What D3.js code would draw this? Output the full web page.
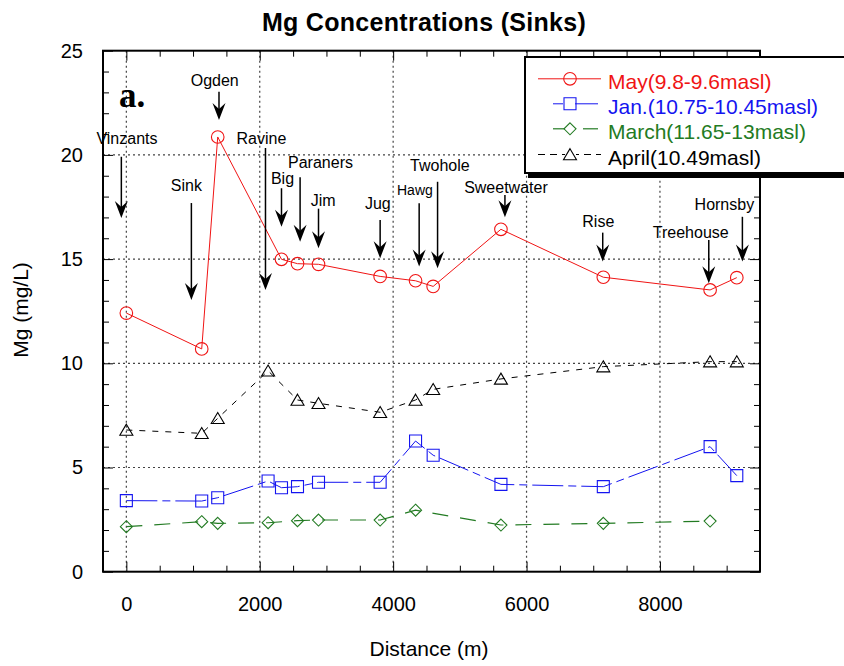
<!DOCTYPE html>
<html>
<head>
<meta charset="utf-8">
<script src="https://cdn.jsdelivr.net/npm/d3@7"></script>
<style>
  html, body { margin: 0; padding: 0; background: #fff; }
  svg { display: block; }
</style>
</head>
<body>
<svg id="chart" width="844" height="666"></svg>
<script>
// ---------------- data ----------------
const seriesNames = ["May(9.8-9.6masl)", "Jan.(10.75-10.45masl)", "March(11.65-13masl)", "April(10.49masl)"];

const distMay   = [0, 1130, 1370, 2326, 2566, 2881, 3805, 4336, 4600, 5616, 7151, 8752, 9152];
const mgMay     = [12.41, 10.69, 20.86, 14.99, 14.78, 14.75, 14.17, 13.96, 13.69, 16.43, 14.13, 13.52, 14.11];

const distJan   = [0, 1130, 1370, 2125, 2326, 2566, 2881, 3805, 4336, 4600, 5616, 7151, 8752, 9152];
const mgJan     = [3.41, 3.39, 3.55, 4.35, 4.03, 4.08, 4.29, 4.29, 6.27, 5.59, 4.19, 4.08, 6.00, 4.61];

const distMarch = [0, 1130, 1370, 2125, 2566, 2881, 3805, 4336, 5616, 7151, 8752];
const mgMarch   = [2.16, 2.40, 2.32, 2.35, 2.45, 2.48, 2.48, 2.95, 2.24, 2.32, 2.43];

const distApril = [0, 1130, 1370, 2125, 2566, 2881, 3805, 4336, 4600, 5616, 7151, 8752, 9152];
const mgApril   = [6.80, 6.64, 7.36, 9.64, 8.24, 8.08, 7.65, 8.24, 8.75, 9.25, 9.84, 10.08, 10.08];

const xTicks = [0, 2000, 4000, 6000, 8000];
const yTicks = [0, 5, 10, 15, 20, 25];

// site annotations (in data units: distance, Mg)
const siteNames    = ["Vinzants", "Sink", "Ogden", "Ravine", "Big", "Paraners", "Jim", "Jug", "Hawg", "Twohole", "Sweetwater", "Rise", "Treehouse", "Hornsby"];
const siteArrowX   = [-75, 975, 1389, 2086, 2326, 2605, 2881, 3805, 4390, 4666, 5676, 7142, 8732, 9236];
const siteLabelX   = [9, 900, 1325, 2026, 2341, 2911, 2950, 3770, 4326, 4701, 5691, 7076, 8462, 8966];
const siteLabelY   = [20.52, 18.28, 23.31, 20.52, 18.60, 19.36, 17.56, 17.40, 18.08, 19.24, 18.16, 16.53, 16.00, 17.36];
const siteArrowTop = [19.91, 17.69, 23.03, 20.33, 18.40, 18.93, 17.42, 16.88, 17.68, 18.71, 18.08, 16.27, 15.92, 17.03];
const siteArrowTip = [16.97, 13.04, 21.67, 13.52, 16.55, 15.83, 15.52, 15.04, 14.65, 14.56, 17.01, 14.88, 13.84, 14.88];

// ---------------- layout ----------------
const SANS = "Liberation Sans, Arial, Helvetica, sans-serif";
const SERIF = "Liberation Serif, Times New Roman, serif";
const svg = d3.select("#chart");
const L = 103, R = 760, T = 50.7, B = 571.7;
const x = d3.scaleLinear().domain([-350, 9500]).range([L, R]);
const y = d3.scaleLinear().domain([0, 25]).range([B, T]);

const series = [
  { name: seriesNames[0], xs: distMay,   ys: mgMay,   color: "#f01414", dash: null,        marker: "circle",   width: 1 },
  { name: seriesNames[1], xs: distJan,   ys: mgJan,   color: "#1414f0", dash: "31,5,8,5",  marker: "square",   width: 1 },
  { name: seriesNames[2], xs: distMarch, ys: mgMarch, color: "#237b23", dash: "16,12",     marker: "diamond",  width: 1.2 },
  { name: seriesNames[3], xs: distApril, ys: mgApril, color: "#000000", dash: "6,7",       marker: "triangle", width: 1 }
];

// ---------------- grid ----------------
const grid = svg.append("g").attr("class", "grid");
grid.selectAll("line.vg").data(xTicks).join("line").attr("class", "vg")
  .attr("x1", d => x(d)).attr("x2", d => x(d)).attr("y1", T).attr("y2", B)
  .attr("stroke", "#444").attr("stroke-width", 1.2).attr("stroke-dasharray", "2,3");
grid.selectAll("line.hg").data(yTicks.filter(d => d > 0 && d < 25)).join("line").attr("class", "hg")
  .attr("x1", L).attr("x2", R).attr("y1", d => y(d)).attr("y2", d => y(d))
  .attr("stroke", "#444").attr("stroke-width", 1.2).attr("stroke-dasharray", "2,3");

// ---------------- axes ----------------
const xMinor = d3.range(0, 9501, 500).filter(d => d % 2000 !== 0);
const yMinor = d3.range(0, 26, 1).filter(d => d % 5 !== 0);

function styleAxis(g) {
  g.select(".domain").remove();
  g.selectAll("line").attr("stroke", "#000").attr("stroke-width", 1);
  g.selectAll("text").attr("font-size", 20).attr("fill", "#000").style("font-family", SANS);
}

svg.append("g").attr("transform", `translate(0,${B})`)
  .call(d3.axisBottom(x).tickValues(xTicks).tickSize(-10).tickPadding(25).tickFormat(d3.format("d"))).call(styleAxis);
svg.append("g").attr("transform", `translate(0,${B})`)
  .call(d3.axisBottom(x).tickValues(xMinor).tickSize(-6).tickFormat("")).call(styleAxis);
svg.append("g").attr("transform", `translate(0,${T})`)
  .call(d3.axisTop(x).tickValues(xTicks).tickSize(-10).tickFormat("")).call(styleAxis);
svg.append("g").attr("transform", `translate(0,${T})`)
  .call(d3.axisTop(x).tickValues(xMinor).tickSize(-6).tickFormat("")).call(styleAxis);

svg.append("g").attr("transform", `translate(${L},0)`)
  .call(d3.axisLeft(y).tickValues(yTicks).tickSize(-10).tickPadding(20).tickFormat(d3.format("d"))).call(styleAxis);
svg.append("g").attr("transform", `translate(${L},0)`)
  .call(d3.axisLeft(y).tickValues(yMinor).tickSize(-6).tickFormat("")).call(styleAxis);
svg.append("g").attr("transform", `translate(${R},0)`)
  .call(d3.axisRight(y).tickValues(yTicks).tickSize(-10).tickFormat("")).call(styleAxis);
svg.append("g").attr("transform", `translate(${R},0)`)
  .call(d3.axisRight(y).tickValues(yMinor).tickSize(-6).tickFormat("")).call(styleAxis);

svg.append("rect").attr("x", L).attr("y", T).attr("width", R - L).attr("height", B - T)
  .attr("fill", "none").attr("stroke", "#000").attr("stroke-width", 2);

// ---------------- markers ----------------
function markerPath(type) {
  const s = 6;
  switch (type) {
    case "square":   return `M${-s},${-s}H${s}V${s}H${-s}Z`;
    case "diamond":  return `M0,${-s}L${s},0L0,${s}L${-s},0Z`;
    case "triangle": return `M0,-5.8L6.5,5.2L-6.5,5.2Z`;
    default:         return "";
  }
}
function drawMarker(g, type, cx, cy, color) {
  if (type === "circle") {
    g.append("circle").attr("cx", cx).attr("cy", cy).attr("r", 6.3)
      .attr("fill", "none").attr("stroke", color).attr("stroke-width", 1.1);
  } else {
    g.append("path").attr("d", markerPath(type)).attr("transform", `translate(${cx},${cy})`)
      .attr("fill", "none").attr("stroke", color).attr("stroke-width", 1.1);
  }
}

// ---------------- series ----------------
const plot = svg.append("g").attr("class", "series");
series.slice().reverse().forEach(s => {
  const pts = s.xs.map((d, i) => [d, s.ys[i]]);
  const line = d3.line().x(d => x(d[0])).y(d => y(d[1]));
  plot.append("path").datum(pts).attr("d", line)
    .attr("fill", "none").attr("stroke", s.color).attr("stroke-width", s.width)
    .attr("stroke-dasharray", s.dash);
  const mg = plot.append("g");
  pts.forEach(p => drawMarker(mg, s.marker, x(p[0]), y(p[1]), s.color));
});

// ---------------- annotations ----------------
const ann = svg.append("g").attr("class", "annotations");
siteNames.forEach((name, i) => {
  const ax = x(siteArrowX[i]);
  const yTop = y(siteArrowTop[i]);
  const yTip = y(siteArrowTip[i]);
  ann.append("line").attr("x1", ax).attr("x2", ax).attr("y1", yTop).attr("y2", yTip - 8)
    .attr("stroke", "#000").attr("stroke-width", 1.5);
  ann.append("path").attr("d", "M0,0L-6.5,-17L0,-11L6.5,-17Z")
    .attr("transform", `translate(${ax},${yTip})`).attr("fill", "#000");
  ann.append("text").attr("x", x(siteLabelX[i])).attr("y", y(siteLabelY[i]))
    .attr("text-anchor", "middle").attr("font-size", name === "Hawg" ? 14 : 16)
    .style("font-family", SANS).attr("fill", "#000").text(name);
});

// ---------------- legend ----------------
const lg = svg.append("g").attr("class", "legend");
const LX = 525, LY = 57, LW = 330, LH = 116;
lg.append("rect").attr("x", LX + 3).attr("y", LY + 5).attr("width", LW).attr("height", LH).attr("fill", "#000");
lg.append("rect").attr("x", LX).attr("y", LY).attr("width", LW).attr("height", LH)
  .attr("fill", "#fff").attr("stroke", "#000").attr("stroke-width", 2);

const rowBase = [89.3, 114.3, 139.3, 165];
const legendSegs = [
  [[538, 601]],
  [[553, 563], [575, 598]],
  [[553, 565], [583, 598]],
  [[538, 545], [550, 557], [562, 565], [576, 579], [584, 591], [596, 601]]
];
series.forEach((s, i) => {
  const ly = rowBase[i] - 10.5;
  legendSegs[i].forEach(seg => {
    lg.append("line").attr("x1", seg[0]).attr("x2", seg[1]).attr("y1", ly).attr("y2", ly)
      .attr("stroke", s.color).attr("stroke-width", s.width);
  });
  drawMarker(lg, s.marker, 570, ly, s.color);
  lg.append("text").attr("x", 608).attr("y", rowBase[i]).attr("font-size", 21)
    .style("font-family", SANS).attr("fill", s.color).text(s.name);
});

// ---------------- titles ----------------
svg.append("text").attr("x", 424).attr("y", 30.5).attr("text-anchor", "middle")
  .attr("font-size", 25).attr("font-weight", "bold").attr("fill", "#000")
  .attr("letter-spacing", 0.3).style("font-family", SANS)
  .text("Mg Concentrations (Sinks)");

svg.append("text").attr("x", 119).attr("y", 107).attr("font-size", 35).attr("font-weight", "bold")
  .style("font-family", SERIF).attr("fill", "#000").text("a.");

svg.append("text").attr("x", 429).attr("y", 655.7).attr("text-anchor", "middle")
  .attr("font-size", 21).style("font-family", SANS).attr("fill", "#000").text("Distance (m)");

svg.append("text").attr("transform", "translate(28,310) rotate(-90)").attr("text-anchor", "middle")
  .attr("font-size", 21).style("font-family", SANS).attr("fill", "#000").text("Mg (mg/L)");
</script>
</body>
</html>
